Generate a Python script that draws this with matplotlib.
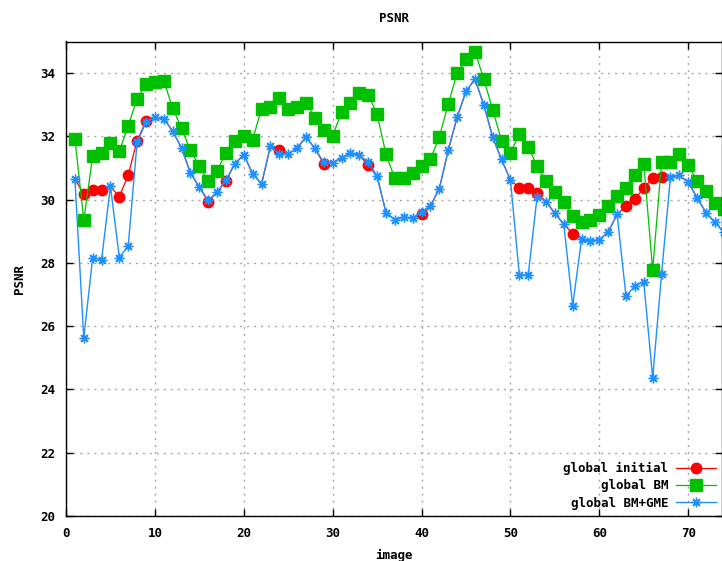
import numpy as np
import matplotlib
matplotlib.use('Agg')
import matplotlib.pyplot as plt

plt.rcParams['font.family'] = 'DejaVu Sans Mono'
plt.rcParams['font.weight'] = 'bold'

image = np.arange(1, 75)

global_bm = [31.93, 29.36, 31.37, 31.48, 31.8, 31.53, 32.34, 33.18, 33.66, 33.71,
             33.75, 32.9, 32.25, 31.56, 31.06, 30.59, 30.92, 31.48, 31.87, 32.02,
             31.9, 32.88, 32.93, 33.2, 32.88, 32.93, 33.07, 32.58, 32.19, 32.02,
             32.76, 33.07, 33.37, 33.32, 32.7, 31.43, 30.67, 30.67, 30.85, 31.06,
             31.29, 31.98, 33.02, 34.0, 34.45, 34.68, 33.82, 32.84, 31.87, 31.48,
             32.08, 31.67, 31.06, 30.59, 30.25, 29.94, 29.48, 29.28, 29.35, 29.5,
             29.8, 30.11, 30.38, 30.78, 31.14, 27.78, 31.18, 31.2, 31.43, 31.09,
             30.59, 30.27, 29.9, 29.7]

global_bm_gme = [30.66, 25.62, 28.17, 28.1, 30.43, 28.17, 28.54, 31.82, 32.45, 32.61,
                 32.56, 32.17, 31.63, 30.85, 30.39, 29.98, 30.24, 30.62, 31.14, 31.42,
                 30.82, 30.5, 31.69, 31.45, 31.43, 31.64, 31.98, 31.62, 31.18, 31.16,
                 31.32, 31.48, 31.4, 31.2, 30.74, 29.59, 29.36, 29.46, 29.41, 29.62,
                 29.8, 30.35, 31.56, 32.61, 33.42, 33.81, 33.0, 31.98, 31.27, 30.62,
                 27.62, 27.62, 30.1, 29.94, 29.57, 29.22, 26.65, 28.75, 28.7, 28.73,
                 28.98, 29.54, 26.94, 27.28, 27.39, 24.36, 27.65, 30.72, 30.77, 30.55,
                 30.06, 29.59, 29.28, 28.98]

global_initial = [30.66, 30.17, 30.3, 30.3, 30.4, 30.1, 30.78, 31.87, 32.48, 32.61,
                  32.56, 32.17, 31.63, 30.85, 30.39, 29.94, 30.24, 30.59, 31.14, 31.42,
                  30.82, 30.5, 31.69, 31.58, 31.43, 31.64, 31.98, 31.62, 31.13, 31.16,
                  31.32, 31.48, 31.4, 31.09, 30.74, 29.59, 29.36, 29.46, 29.41, 29.54,
                  29.8, 30.35, 31.56, 32.61, 33.42, 33.81, 33.0, 31.98, 31.27, 30.62,
                  30.38, 30.38, 30.22, 29.94, 29.57, 29.22, 28.93, 28.75, 28.7, 28.73,
                  28.98, 29.54, 29.8, 30.03, 30.36, 30.69, 30.72, 30.72, 30.77, 30.55,
                  30.06, 29.59, 29.28, 28.98]

# circles that show from under the blue stars
initial_shown = [1, 2, 3, 5, 6, 7, 8, 15, 17, 23, 28, 33, 39, 50, 51, 52, 56, 62, 63, 64, 65, 66]

fig = plt.figure(figsize=(7.22, 5.61), dpi=100)
ax = fig.add_axes([66 / 722, 1 - 516 / 561, 1 - 66 / 722, (516 - 41.5) / 561])

ax.plot(image, global_initial, color='#ff0000', lw=0.9, marker='o', markersize=7.5,
        markevery=initial_shown, label='global initial')
ax.plot(image, global_bm, color='#00c000', lw=0.9, marker='s', markersize=8.5,
        label='global BM')
ax.plot(image, global_bm_gme, color='#1e90ff', lw=1.0, marker=(8, 2, 0), markersize=7,
        markeredgewidth=1.0, label='global BM+GME')

ax.set_xlim(0, 73.8)
ax.set_ylim(20, 35)
ax.set_xticks(range(0, 71, 10))
ax.set_yticks(range(20, 35, 2))
ax.tick_params(direction='in', length=5, width=1, top=True, right=True, labelsize=9, pad=8)
ax.grid(True, color='#a8a8a8', linestyle=(0, (1.5, 3.5)), linewidth=1)
for s in ax.spines.values():
    s.set_linewidth(1)

ax.set_title('PSNR', fontsize=9, fontweight='bold', pad=14)
ax.set_xlabel('image', fontsize=9, fontweight='bold', labelpad=6)
ax.set_ylabel('PSNR', fontsize=9, fontweight='bold', labelpad=10)

ax.legend(loc='lower right', frameon=False, markerfirst=False, fontsize=9,
          handlelength=3.2, labelspacing=0.35, borderaxespad=0.1, handletextpad=0.6)

fig.savefig('out.png', dpi=100)
